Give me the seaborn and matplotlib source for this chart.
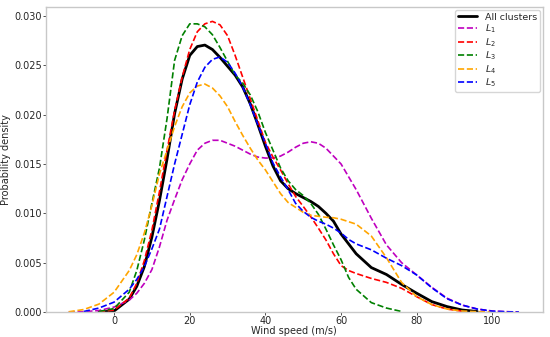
import numpy as np
import pandas as pd
import seaborn as sns
import matplotlib
matplotlib.use("Agg")
import matplotlib.pyplot as plt

nan = np.nan

# wind speed grid (m/s) the densities were read at
speed = [-12, -8, -4, 0, 4, 6, 8, 10, 12, 14, 16, 18, 20, 22, 24, 26, 28, 30, 32, 34,
         36, 38, 40, 42, 44, 46, 48, 50, 52, 54, 56, 58, 60, 62, 64, 68, 72, 76, 80, 84,
         88, 92, 96, 100, 104, 107]

all_clusters = [nan, nan, 0.0, 0.0001, 0.0013, 0.0026, 0.0046, 0.0076, 0.0113, 0.0155,
                0.0201, 0.0236, 0.0260, 0.0269, 0.02705, 0.0266, 0.0258, 0.0249, 0.0240, 0.0228,
                0.0211, 0.0190, 0.0168, 0.0148, 0.0133, 0.0125, 0.0120, 0.0116, 0.0112, 0.0107,
                0.0100, 0.0092, 0.0079, 0.0069, 0.0059, 0.0045, 0.0038, 0.0028, 0.0019, 0.00105,
                0.00055, 0.0002, 0.00005, nan, nan, nan]

L1 = [0.0, 0.00003, 0.00015, 0.0005, 0.0012, 0.0019, 0.0029, 0.0043, 0.0066, 0.0093,
      0.0114, 0.0134, 0.0150, 0.0164, 0.0171, 0.0174, 0.0174, 0.0171, 0.0168, 0.0164,
      0.0160, 0.0157, 0.0156, 0.0156, 0.0158, 0.0162, 0.0167, 0.0171, 0.01725, 0.0171,
      0.0166, 0.0158, 0.0150, 0.0137, 0.0124, 0.0095, 0.0068, 0.0050, 0.00375, 0.0025,
      0.0014, 0.0007, 0.0003, 0.0001, 0.00003, 0.0]

L2 = [nan, nan, 0.00002, 0.0002, 0.0014, 0.0029, 0.0052, 0.0083, 0.0122, 0.0164,
      0.0204, 0.0238, 0.0266, 0.0284, 0.0292, 0.02945, 0.0291, 0.0280, 0.0260, 0.0238,
      0.0216, 0.0194, 0.0172, 0.0157, 0.0144, 0.0130, 0.0117, 0.0107, 0.00965, 0.0085,
      0.0073, 0.0059, 0.0047, 0.0042, 0.0039, 0.0034, 0.0030, 0.0024, 0.00155, 0.00075,
      0.0003, 0.00008, nan, nan, nan, nan]

L3 = [nan, nan, 0.00005, 0.00035, 0.0020, 0.0042, 0.0073, 0.0110, 0.0146, 0.0196,
      0.0255, 0.0280, 0.0292, 0.0292, 0.0289, 0.0281, 0.0268, 0.0254, 0.0240, 0.0232,
      0.0220, 0.0203, 0.0182, 0.0164, 0.0146, 0.0133, 0.0124, 0.0118, 0.0110, 0.0099,
      0.0084, 0.0068, 0.0053, 0.0035, 0.0023, 0.00095, 0.0004, 0.00005, nan, nan,
      nan, nan, nan, nan, nan, nan]

L4 = [0.00002, 0.00025, 0.0008, 0.0020, 0.0042, 0.0058, 0.0080, 0.0108, 0.0140, 0.0164,
      0.0188, 0.0208, 0.0222, 0.0229, 0.0231, 0.0227, 0.0219, 0.0208, 0.0193, 0.0179,
      0.0166, 0.0154, 0.0144, 0.0132, 0.0120, 0.0111, 0.0106, 0.0101, 0.0098, 0.0097,
      0.0096, 0.00955, 0.0094, 0.00915, 0.0089, 0.0077, 0.0055, 0.0030, 0.00155, 0.00075,
      0.0003, 0.0001, 0.00003, 0.0, nan, nan]

L5 = [nan, 0.00005, 0.0004, 0.0010, 0.0023, 0.0033, 0.0046, 0.0064, 0.0084, 0.0117,
      0.0150, 0.0180, 0.0210, 0.0233, 0.0248, 0.0256, 0.02585, 0.0253, 0.0242, 0.0228,
      0.0210, 0.0190, 0.0171, 0.0151, 0.0137, 0.0124, 0.0110, 0.0102, 0.0096, 0.0092,
      0.0089, 0.0085, 0.0080, 0.00735, 0.0069, 0.0063, 0.00545, 0.0047, 0.00375, 0.00245,
      0.00135, 0.0007, 0.0003, 0.00008, 0.00002, 0.0]

series_names = ["All clusters", "$L_1$", "$L_2$", "$L_3$", "$L_4$", "$L_5$"]
series_values = [all_clusters, L1, L2, L3, L4, L5]
series_colors = ["black", "m", "r", "g", "orange", "b"]

sns.set_style("white")
plt.rcParams["font.family"] = ["DejaVu Sans"]

fig = plt.figure(figsize=(5.5, 3.37), dpi=100)
ax = fig.add_axes([0.0836, 0.0742, 0.9031, 0.9048])

for name, vals, col in zip(series_names, series_values, series_colors):
    solid = name == "All clusters"
    sns.lineplot(x=speed, y=vals, ax=ax, color=col, label=name,
                 linestyle="-" if solid else "--",
                 linewidth=2.0 if solid else 1.2)

ax.set_xlim(-18, 113.3)
ax.set_ylim(0, 0.0309)
ax.set_xticks([0, 20, 40, 60, 80, 100])
ax.set_yticks([0.0, 0.005, 0.010, 0.015, 0.020, 0.025, 0.030])
ax.yaxis.set_major_formatter(matplotlib.ticker.FormatStrFormatter("%.3f"))
ax.tick_params(labelsize=7, length=2, width=0.6, color="#333333",
               left=True, bottom=True, pad=1)
ax.set_xlabel("Wind speed (m/s)", fontsize=7, labelpad=0)
ax.set_ylabel("Probability density", fontsize=7, labelpad=2)
for s in ax.spines.values():
    s.set_color("#c8c8c8")
    s.set_linewidth(1.0)

ax.legend(loc="upper right", fontsize=6.8, frameon=True, borderaxespad=0.3,
          labelspacing=0.1, borderpad=0.3, handlelength=2.0)

fig.savefig("out.png", dpi=100)
